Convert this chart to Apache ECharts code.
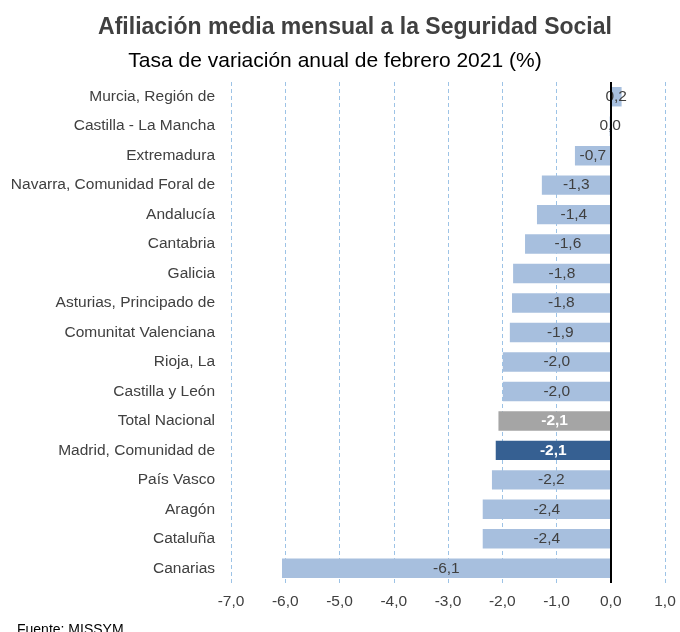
<!DOCTYPE html>
<html><head><meta charset="utf-8">
<script src="https://cdn.jsdelivr.net/npm/echarts@6/dist/echarts.min.js"></script>
<style>html,body{margin:0;padding:0;background:#fff}#c{width:680px;height:632px}</style>
</head><body><div id="c"></div>
<script>
const categories = ["Murcia, Región de","Castilla - La Mancha","Extremadura","Navarra, Comunidad Foral de","Andalucía","Cantabria","Galicia","Asturias, Principado de","Comunitat Valenciana","Rioja, La","Castilla y León","Total Nacional","Madrid, Comunidad de","País Vasco","Aragón","Cataluña","Canarias"];
const values = [0.2, -0.02, -0.66, -1.27, -1.36, -1.58, -1.8, -1.82, -1.86, -1.99, -1.99, -2.07, -2.12, -2.19, -2.36, -2.36, -6.06];
const xTicks = [-7, -6, -5, -4, -3, -2, -1, 0, 1];

function fmt(v){ let s = Math.abs(v) < 0.05 ? "0.0" : v.toFixed(1); return s.replace('.', ','); }

const data = values.map((v, i) => {
  const name = categories[i];
  if (name === "Total Nacional") return {value: v, itemStyle:{color:'#A5A5A5'}, label:{color:'#fff', fontWeight:'bold'}};
  if (name === "Madrid, Comunidad de") return {value: v, itemStyle:{color:'#366092'}, label:{color:'#fff', fontWeight:'bold'}};
  return v;
});

const FF = '"Liberation Sans", Arial, sans-serif';
const chart = echarts.init(document.getElementById('c'));
chart.setOption({
  animation:false,
  textStyle:{fontFamily:FF},
  title:[
    {text:'Afiliación media mensual a la Seguridad Social', left:350, textAlign:'center', top:11,
     textStyle:{fontSize:23, fontWeight:'bold', color:'#404040', fontFamily:FF}},
    {text:'Tasa de variación anual de febrero 2021 (%)', left:330, textAlign:'center', top:46,
     textStyle:{fontSize:21, fontWeight:'normal', color:'#000', fontFamily:FF}},
    {text:'Fuente: MISSYM', left:12, top:618,
     textStyle:{fontSize:14, fontWeight:'normal', color:'#000', fontFamily:FF}}
  ],
  grid:{left:231, right:15, top:82, bottom:49, containLabel:false},
  xAxis:{type:'value', min:xTicks[0], max:xTicks[xTicks.length-1], interval:1,
    axisLine:{show:false}, axisTick:{show:false},
    axisLabel:{fontSize:15.5, color:'#404040', margin:11, formatter:v => fmt(v)},
    splitLine:{show:true, lineStyle:{type:[4,3], color:'#9DC3E6', width:1}}},
  yAxis:{type:'category', data:categories, inverse:true,
    axisLine:{show:false}, axisTick:{show:false},
    axisLabel:{fontSize:15.5, color:'#404040', margin:16}},
  series:[{
    type:'bar', data:data, barWidth:'66%',
    itemStyle:{color:'#A7BFDE'},
    label:{show:true, position:'inside', fontSize:15.5, color:'#404040', formatter:p => fmt(p.value)},
    markLine:{silent:true, symbol:'none', label:{show:false},
      lineStyle:{color:'#000', type:'solid', width:2}, data:[{xAxis:0}]}
  }]
});
</script></body></html>
